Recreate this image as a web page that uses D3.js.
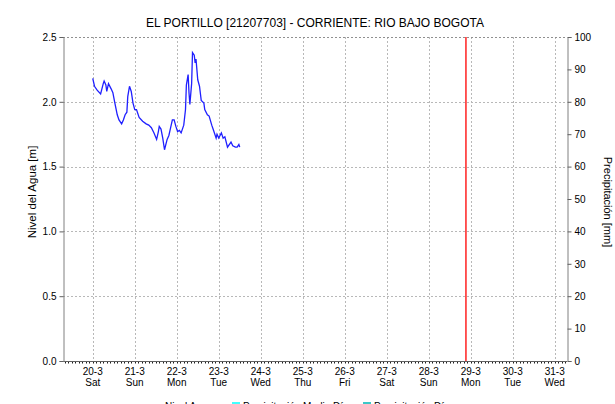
<!DOCTYPE html>
<html>
<head>
<meta charset="utf-8">
<script src="https://cdn.jsdelivr.net/npm/d3@7"></script>
<style>
  body { margin: 0; background: #fff; }
  svg { display: block; }
  text { font-family: "Liberation Sans", Arial, sans-serif; fill: #000; }
</style>
</head>
<body>
<svg id="chart" width="615" height="404"></svg>
<script>
// ---- data ----
const chartTitle = "EL PORTILLO [21207703] - CORRIENTE: RIO BAJO BOGOTA";
const leftAxisTitle = "Nivel del Agua [m]";
const rightAxisTitle = "Precipitación [mm]";

// water level readings (m)
const levelTimes = [
  "2021-03-20 00:00","2021-03-20 01:00","2021-03-20 02:30","2021-03-20 04:30","2021-03-20 06:00",
  "2021-03-20 06:30","2021-03-20 07:30","2021-03-20 08:00","2021-03-20 09:00","2021-03-20 10:30",
  "2021-03-20 11:30","2021-03-20 12:30","2021-03-20 14:00","2021-03-20 15:00","2021-03-20 16:30",
  "2021-03-20 17:30","2021-03-20 18:30","2021-03-20 19:30","2021-03-20 20:00","2021-03-20 21:00",
  "2021-03-20 22:00","2021-03-20 23:00","2021-03-21 00:00","2021-03-21 01:00","2021-03-21 02:30",
  "2021-03-21 04:30","2021-03-21 06:30","2021-03-21 08:00","2021-03-21 09:30","2021-03-21 11:00",
  "2021-03-21 12:30","2021-03-21 13:30","2021-03-21 14:00","2021-03-21 15:00","2021-03-21 16:00",
  "2021-03-21 17:00","2021-03-21 18:30","2021-03-21 19:30","2021-03-21 20:30","2021-03-21 21:30",
  "2021-03-21 22:30","2021-03-21 23:30","2021-03-22 00:30","2021-03-22 01:30","2021-03-22 02:30",
  "2021-03-22 04:00","2021-03-22 05:00","2021-03-22 05:30","2021-03-22 06:30","2021-03-22 07:00",
  "2021-03-22 07:30","2021-03-22 08:30","2021-03-22 09:00","2021-03-22 10:00","2021-03-22 10:30",
  "2021-03-22 11:00","2021-03-22 12:00","2021-03-22 13:00","2021-03-22 14:00","2021-03-22 15:30",
  "2021-03-22 16:00","2021-03-22 17:30","2021-03-22 18:30","2021-03-22 20:00","2021-03-22 21:00",
  "2021-03-22 22:30","2021-03-22 23:00","2021-03-23 00:00","2021-03-23 01:30","2021-03-23 02:30",
  "2021-03-23 03:30","2021-03-23 05:00","2021-03-23 06:30","2021-03-23 07:00","2021-03-23 08:00",
  "2021-03-23 09:30","2021-03-23 10:30","2021-03-23 11:30","2021-03-23 12:00"
];
const levelValues = [
  2.18, 2.12, 2.09, 2.06, 2.14,
  2.16, 2.13, 2.08, 2.14, 2.10,
  2.07, 2.00, 1.90, 1.86, 1.83,
  1.86, 1.90, 1.92, 2.04, 2.12,
  2.08, 1.99, 1.94, 1.94, 1.88,
  1.85, 1.83, 1.82, 1.80, 1.76,
  1.71, 1.77, 1.81, 1.79, 1.72,
  1.63, 1.71, 1.74, 1.80, 1.86,
  1.86, 1.81, 1.77, 1.78, 1.76,
  1.82, 1.94, 2.13, 2.21, 2.07,
  1.98, 2.14, 2.38, 2.36, 2.30,
  2.33, 2.17, 2.12, 2.01, 1.99,
  1.94, 1.90, 1.89, 1.82, 1.78,
  1.72, 1.75, 1.72, 1.76, 1.72,
  1.73, 1.65, 1.68, 1.69, 1.66,
  1.65, 1.65, 1.67, 1.65
];

const levelTicks = [0, 0.5, 1.0, 1.5, 2.0, 2.5];
const rainTicks = [0, 10, 20, 30, 40, 50, 60, 70, 80, 90, 100];
const dayTicks = ["2021-03-20","2021-03-21","2021-03-22","2021-03-23","2021-03-24","2021-03-25",
                  "2021-03-26","2021-03-27","2021-03-28","2021-03-29","2021-03-30","2021-03-31"];
const timeStart = "2021-03-19 07:00";
const timeEnd = "2021-03-31 07:00";
const nowMarker = "2021-03-28 21:15";

const legendLabels = ["Nivel Agua", "Precipitación Media Día", "Precipitación Día"];
const legendColors = ["#1f1fff", "#40ffff", "#3cc8c8"];

// ---- layout ----
const svg = d3.select("#chart");
const plot = { left: 63, right: 567, top: 37, bottom: 361 };
const parseTime = d3.timeParse("%Y-%m-%d %H:%M");
const parseDay = d3.timeParse("%Y-%m-%d");

const x = d3.scaleTime()
  .domain([parseTime(timeStart), parseTime(timeEnd)])
  .range([plot.left, plot.right]);
const yLevel = d3.scaleLinear().domain([0, 2.5]).range([plot.bottom, plot.top]);
const yRain = d3.scaleLinear().domain([0, 100]).range([plot.bottom, plot.top]);

const days = dayTicks.map(parseDay);
const gridColor = "#b8b8b8";

// grid
const grid = svg.append("g");
grid.selectAll("line.v").data(days).join("line")
  .attr("x1", d => Math.round(x(d)) + 0.5).attr("x2", d => Math.round(x(d)) + 0.5)
  .attr("y1", plot.top).attr("y2", plot.bottom)
  .attr("stroke", gridColor).attr("stroke-dasharray", "2,2");
grid.selectAll("line.h").data(levelTicks.filter(v => v > 0)).join("line")
  .attr("x1", plot.left).attr("x2", plot.right)
  .attr("y1", d => Math.round(yLevel(d)) + 0.5).attr("y2", d => Math.round(yLevel(d)) + 0.5)
  .attr("stroke", d => d === 2.5 ? "#909090" : gridColor).attr("stroke-dasharray", "2,2");

// bottom axis with two-hourly minor ticks
const hours = d3.timeHour.every(2).range(x.domain()[0], x.domain()[1]);
svg.append("line")
  .attr("x1", plot.left).attr("x2", plot.right)
  .attr("y1", plot.bottom + 0.5).attr("y2", plot.bottom + 0.5)
  .attr("stroke", "#606060");
svg.append("g").selectAll("line").data(hours).join("line")
  .attr("x1", d => Math.round(x(d)) + 0.5).attr("x2", d => Math.round(x(d)) + 0.5)
  .attr("y1", plot.bottom + 1).attr("y2", plot.bottom + 2.5)
  .attr("stroke", "#202020");

// day labels
const fmtDay = d3.timeFormat("%-d-%-m");
const fmtWeek = d3.timeFormat("%a");
const dayLabels = svg.append("g").attr("font-size", 10).attr("text-anchor", "middle");
dayLabels.selectAll("text.d").data(days).join("text")
  .attr("x", d => x(d)).attr("y", 375).text(fmtDay);
dayLabels.selectAll("text.w").data(days).join("text")
  .attr("x", d => x(d)).attr("y", 386).text(fmtWeek);

// left axis
const leftAxis = d3.axisLeft(yLevel).tickValues(levelTicks).tickFormat(d3.format(".1f"))
  .tickSize(4).tickPadding(3);
const gl = svg.append("g").attr("transform", `translate(${plot.left + 0.5},0)`).call(leftAxis);
gl.select(".domain").attr("stroke", "#808080");
gl.selectAll(".tick line").attr("stroke", "#606060");
gl.selectAll("text").attr("font-size", 10).attr("font-family", null);

// right axis
const rightAxis = d3.axisRight(yRain).tickValues(rainTicks).tickSize(4).tickPadding(3);
const gr = svg.append("g").attr("transform", `translate(${plot.right + 0.5},0)`).call(rightAxis);
gr.select(".domain").attr("stroke", "#808080");
gr.selectAll(".tick line").attr("stroke", "#606060");
gr.selectAll("text").attr("font-size", 10).attr("font-family", null);

// axis titles
svg.append("text")
  .attr("transform", `translate(36,${(plot.top + plot.bottom) / 2 - 7}) rotate(-90)`)
  .attr("text-anchor", "middle").attr("font-size", 11.5).text(leftAxisTitle);
svg.append("text")
  .attr("transform", `translate(604,${(plot.top + plot.bottom) / 2 + 3}) rotate(90)`)
  .attr("text-anchor", "middle").attr("font-size", 11).text(rightAxisTitle);

// title
svg.append("text")
  .attr("x", (plot.left + plot.right) / 2).attr("y", 27)
  .attr("text-anchor", "middle").attr("font-size", 12).text(chartTitle);

// current-time marker
const tNow = parseTime(nowMarker);
svg.append("line")
  .attr("x1", x(tNow)).attr("x2", x(tNow))
  .attr("y1", plot.top).attr("y2", plot.bottom)
  .attr("stroke", "#ff2020").attr("stroke-width", 1.5);

// water level line
const levelData = levelTimes.map((t, i) => ({ t: parseTime(t), v: levelValues[i] }));
svg.append("path").datum(levelData)
  .attr("fill", "none").attr("stroke", legendColors[0]).attr("stroke-width", 1.3)
  .attr("d", d3.line().x(d => x(d.t)).y(d => yLevel(d.v)));

// legend along the bottom edge
const legendX = [165, 232, 363];
const lg = svg.append("g").attr("font-size", 10);
legendLabels.forEach((label, i) => {
  if (i === 0) {
    lg.append("line").attr("x1", legendX[i] - 20).attr("x2", legendX[i] - 4)
      .attr("y1", 406).attr("y2", 406).attr("stroke", legendColors[i]);
    lg.append("text").attr("x", legendX[i]).attr("y", 409.5).text(label);
  } else {
    lg.append("rect").attr("x", legendX[i]).attr("y", 402).attr("width", 8).attr("height", 8)
      .attr("fill", legendColors[i]);
    lg.append("text").attr("x", legendX[i] + 11).attr("y", 409.5).text(label);
  }
});
</script>
</body>
</html>
